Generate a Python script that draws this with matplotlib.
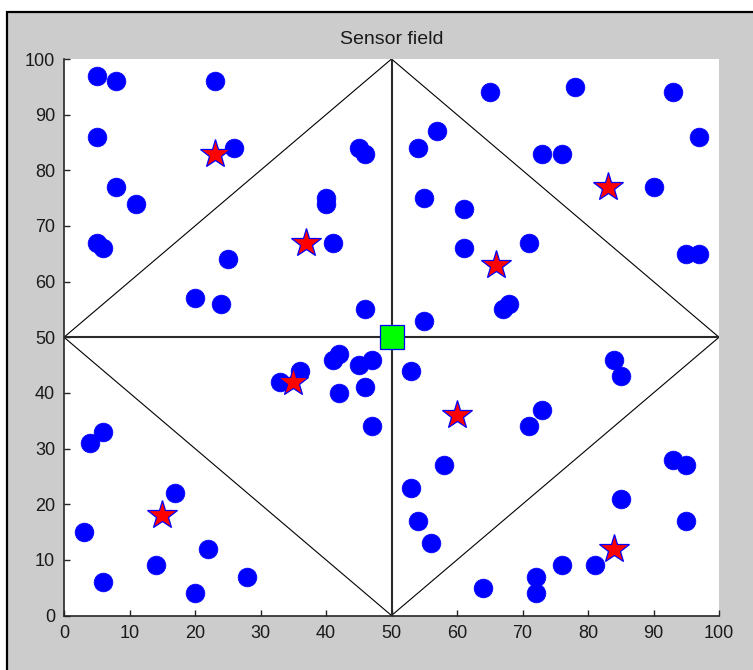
import matplotlib
matplotlib.use("Agg")
import matplotlib.pyplot as plt
from matplotlib.patches import Rectangle

plt.rcParams['font.family'] = ['Liberation Sans', 'DejaVu Sans']

# Sensor nodes (blue circles)
node_x = [5, 8, 23, 5, 26, 45, 46, 8, 11, 40, 40, 5, 6, 41, 25, 20, 24, 46,
          65, 78, 93, 57, 54, 97, 73, 76, 90, 55, 61, 61, 71, 95, 97, 67, 68, 55,
          41, 42, 45, 47, 46, 42, 47, 33, 36, 4, 6, 17, 3, 22, 14, 6, 28, 20,
          53, 84, 85, 73, 71, 58, 53, 54, 56, 93, 95, 85, 95, 76, 81, 72, 72, 64]
node_y = [97, 96, 96, 86, 84, 84, 83, 77, 74, 75, 74, 67, 66, 67, 64, 57, 56, 55,
          94, 95, 94, 87, 84, 86, 83, 83, 77, 75, 73, 66, 67, 65, 65, 55, 56, 53,
          46, 47, 45, 46, 41, 40, 34, 42, 44, 31, 33, 22, 15, 12, 9, 6, 7, 4,
          44, 46, 43, 37, 34, 27, 23, 17, 13, 28, 27, 21, 17, 9, 9, 7, 4, 5]

# Cluster heads (red stars)
head_x = [23, 37, 83, 66, 35, 15, 60, 84]
head_y = [83, 67, 77, 63, 42, 18, 36, 12]

# Sink (green square)
sink_x = [50]
sink_y = [50]

# Field partition: outer diamond and cross lines
diamond_x = [0, 50, 100, 50, 0]
diamond_y = [50, 100, 50, 0, 50]
vline_x = [50, 50]
vline_y = [0, 100]
hline_x = [0, 100]
hline_y = [50, 50]

W, H = 753, 670
fig = plt.figure(figsize=(W / 100, H / 100), dpi=100, facecolor='white')
# gray figure panel with black top/left border
fig.patches.append(Rectangle((7 / W, -0.1), 1.2, 1.1 - 12 / H, transform=fig.transFigure,
                             facecolor='#cccccc', edgecolor='black', linewidth=1.6, zorder=-10))

ax = fig.add_axes([64 / W, (H - 615.5) / H, 655 / W, 556.5 / H])
ax.set_facecolor('white')

ax.plot(diamond_x, diamond_y, color='black', linewidth=0.8, zorder=1)
ax.plot(vline_x, vline_y, color='#2a2a2a', linewidth=1.5, zorder=1)
ax.plot(hline_x, hline_y, color='#2a2a2a', linewidth=1.5, zorder=1)

ax.plot(node_x, node_y, linestyle='none', marker='o', markersize=13.5,
        markerfacecolor='#0000ff', markeredgecolor='#0000ff', markeredgewidth=0.5, zorder=3)
ax.plot(head_x, head_y, linestyle='none', marker='*', markersize=22,
        markerfacecolor='#ff0000', markeredgecolor='#0000ff', markeredgewidth=0.9, zorder=4)
ax.plot(sink_x, sink_y, linestyle='none', marker='s', markersize=17.5,
        markerfacecolor='#00ff00', markeredgecolor='#0000ff', markeredgewidth=0.9, zorder=5)

ax.set_xlim(0, 100)
ax.set_ylim(0, 100)
ax.set_xticks(range(0, 101, 10))
ax.set_yticks(range(0, 101, 10))
for s in ['top', 'right']:
    ax.spines[s].set_visible(False)
for s in ['left', 'bottom']:
    ax.spines[s].set_color('#262626')
    ax.spines[s].set_linewidth(1.2)
    ax.spines[s].set_zorder(6)
ax.tick_params(direction='in', length=4.5, width=1.0, color='#262626',
               labelsize=13, labelcolor='#1a1a1a', pad=6.5)
ax.set_title('Sensor field', fontsize=14, color='#1a1a1a', pad=11)

fig.savefig('out.png', dpi=100, facecolor=fig.get_facecolor())
